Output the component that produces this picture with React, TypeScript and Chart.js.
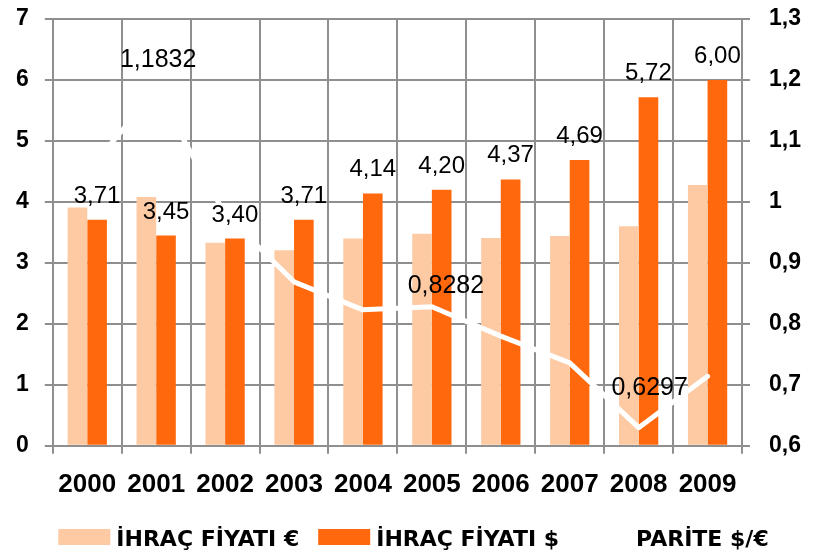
import React, { useEffect, useRef } from 'react';
import { Chart, registerables } from 'chart.js';

Chart.register(...registerables);

// ---- data ----
const years = ['2000', '2001', '2002', '2003', '2004', '2005', '2006', '2007', '2008', '2009'];
const euroPrice = [3.91, 4.08, 3.33, 3.21, 3.40, 3.48, 3.41, 3.44, 3.60, 4.28];
const dollarPrice = [3.71, 3.45, 3.40, 3.71, 4.14, 4.20, 4.37, 4.69, 5.72, 6.00];
const parity = [1.05, 1.1832, 0.98, 0.869, 0.823, 0.8282, 0.78, 0.736, 0.6297, 0.714];
const parityLabelIndexes = [1, 5, 8];
const leftTickLabels = ['0', '1', '2', '3', '4', '5', '6', '7'];
const rightTickLabels = ['0,6', '0,7', '0,8', '0,9', '1', '1,1', '1,2', '1,3'];
const seriesNames = ['İHRAÇ FİYATI €', 'İHRAÇ FİYATI $', 'PARİTE $/€'];

// ---- style ----
const FONT = '"Liberation Sans", Arial, sans-serif';
const LEGEND_FONT = '"DejaVu Sans", sans-serif';
const GRID = '#8f8f8f';
const LIGHT = '#FDCAA3';
const DARK = '#FF680C';
const parityLabelOffset: Record<number, [number, number]> = {
  1: [2, -23],
  5: [14, -14],
  8: [11, -33],
};

const fmt = (v: number, d: number) => v.toFixed(d).replace('.', ',');

const labelPlugin = {
  id: 'valueLabels',
  afterDatasetsDraw(chart: any) {
    const ctx = chart.ctx;
    ctx.save();
    ctx.fillStyle = '#000';
    ctx.textAlign = 'center';
    ctx.textBaseline = 'alphabetic';
    ctx.font = `24px ${FONT}`;
    const barMeta = chart.getDatasetMeta(1);
    barMeta.data.forEach((bar: any, i: number) => {
      ctx.fillText(fmt(dollarPrice[i], 2), bar.x, bar.y - 17);
    });
    ctx.font = `25px ${FONT}`;
    const lineMeta = chart.getDatasetMeta(2);
    parityLabelIndexes.forEach((i) => {
      const p = lineMeta.data[i];
      const [dx, dy] = parityLabelOffset[i] || [0, -15];
      ctx.fillText(fmt(parity[i], 4), p.x + dx, p.y + dy);
    });
    ctx.restore();
  },
};

const legendPlugin = {
  id: 'bottomLegend',
  afterDraw(chart: any) {
    const ctx = chart.ctx;
    const boxW = 52;
    const boxH = 16;
    const gap = 6;
    const itemGap = 19;
    ctx.save();
    ctx.font = `bold 22px ${LEGEND_FONT}`;
    const ds = chart.data.datasets;
    const widths = ds.map((d: any) => boxW + gap + ctx.measureText(d.label).width);
    const total = widths.reduce((a: number, b: number) => a + b, 0) + itemGap * (ds.length - 1);
    let x = chart.width / 2 + 2 - total / 2;
    const boxTop = 529;
    ds.forEach((d: any, i: number) => {
      ctx.fillStyle = d.type === 'line' ? d.borderColor : d.backgroundColor;
      ctx.fillRect(x, boxTop, boxW, boxH);
      ctx.fillStyle = '#000';
      ctx.textAlign = 'left';
      ctx.textBaseline = 'alphabetic';
      ctx.fillText(d.label, x + boxW + gap, boxTop + boxH + 1);
      x += widths[i] + itemGap;
    });
    ctx.restore();
  },
};

export default function App() {
  const ref = useRef<HTMLCanvasElement | null>(null);
  useEffect(() => {
    if (!ref.current) return;
    const chart = new Chart(ref.current, {
      type: 'bar',
      data: {
        labels: years,
        datasets: [
          {
            type: 'bar',
            label: seriesNames[0],
            data: euroPrice,
            backgroundColor: LIGHT,
            borderWidth: 0,
            categoryPercentage: 0.57,
            barPercentage: 1.0,
            yAxisID: 'y',
            order: 1,
          },
          {
            type: 'bar',
            label: seriesNames[1],
            data: dollarPrice,
            backgroundColor: DARK,
            borderWidth: 0,
            categoryPercentage: 0.57,
            barPercentage: 1.0,
            yAxisID: 'y',
            order: 1,
          },
          {
            type: 'line',
            label: seriesNames[2],
            data: parity,
            borderColor: '#ffffff',
            backgroundColor: '#ffffff',
            borderWidth: 5,
            pointRadius: 0,
            tension: 0,
            borderCapStyle: 'round',
            borderJoinStyle: 'round',
            yAxisID: 'y1',
            order: 0,
          } as any,
        ],
      },
      options: {
        animation: false,
        responsive: true,
        maintainAspectRatio: false,
        layout: { padding: { left: 0, right: 3, top: 0, bottom: 38 } },
        plugins: {
          tooltip: { enabled: false },
          legend: { display: false },
        },
        scales: {
          x: {
            grid: { color: GRID, lineWidth: 2, tickLength: 8, offset: true },
            border: { color: GRID, width: 2 },
            ticks: {
              color: '#000',
              padding: 15,
              font: { family: FONT, size: 26, weight: 'bold' },
            },
          },
          y: {
            position: 'left',
            min: 0,
            max: 7,
            grid: { color: GRID, lineWidth: 2, tickLength: 8 },
            border: { color: GRID, width: 2 },
            ticks: {
              stepSize: 1,
              padding: 16,
              color: '#000',
              font: { family: FONT, size: 23, weight: 'bold', lineHeight: 0.01 },
              callback: (_v: any, i: number) => leftTickLabels[i],
            },
          },
          y1: {
            position: 'right',
            min: 0.6,
            max: 1.3,
            grid: { color: GRID, lineWidth: 2, tickLength: 8, drawOnChartArea: false },
            border: { color: GRID, width: 2 },
            ticks: {
              stepSize: 0.1,
              padding: 19,
              color: '#000',
              font: { family: FONT, size: 23, weight: 'bold', lineHeight: 0.01 },
              callback: (_v: any, i: number) => rightTickLabels[i],
            },
          },
        },
      } as any,
      plugins: [labelPlugin, legendPlugin],
    });
    return () => chart.destroy();
  }, []);
  return (
    <div style={{ position: 'fixed', left: 0, top: 0, width: 823, height: 553, background: '#fff' }}>
      <canvas ref={ref} />
    </div>
  );
}
